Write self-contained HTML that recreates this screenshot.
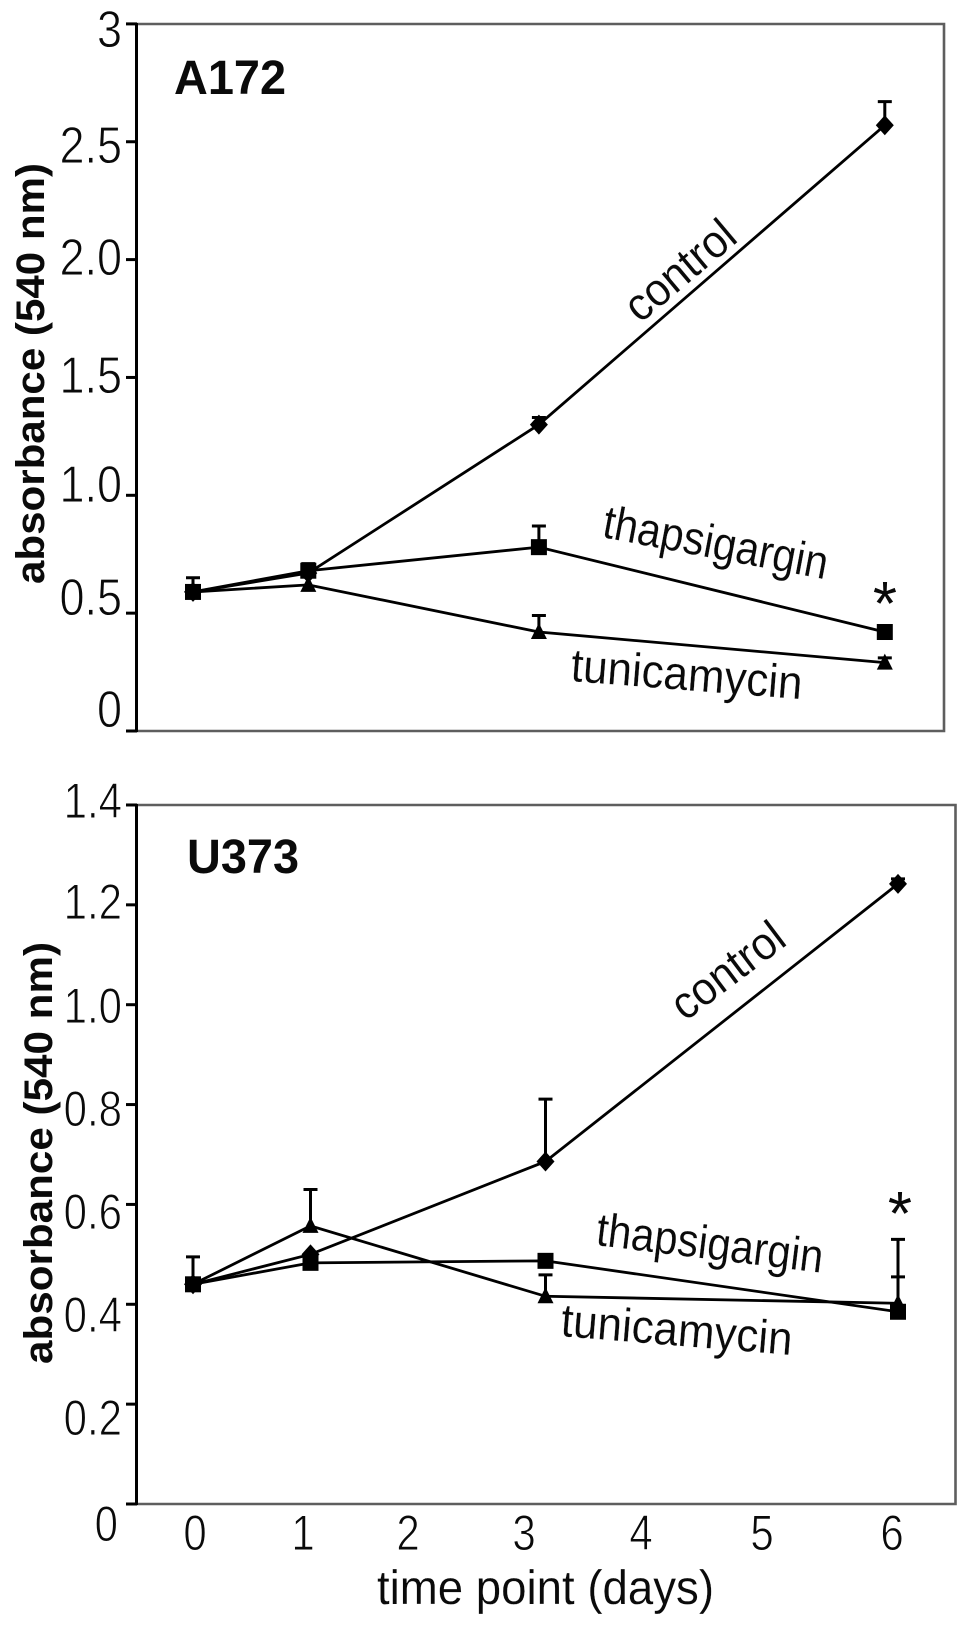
<!DOCTYPE html>
<html lang="en">
<head>
<meta charset="utf-8">
<title>Absorbance over time: A172 and U373</title>
<style>
html,body{margin:0;padding:0;background:#fff;}
svg{display:block;}
text{font-family:"Liberation Sans",Arial,sans-serif;fill:#0a0a0a;}
.tick{stroke:#fff;stroke-width:.8px;}
.lab{stroke:#fff;stroke-width:.15px;}
.title{font-weight:bold;}
</style>
</head>
<body>
<svg id="figure" xmlns="http://www.w3.org/2000/svg" width="969" height="1626" viewBox="0 0 969 1626">
  <rect x="0" y="0" width="969" height="1626" fill="#fff"/>

  <g id="panel-a">
    <path d="M136 24H944V731H136" fill="none" stroke="#5e5e5e" stroke-width="2.6"/>
    <line x1="136.5" y1="23" x2="136.5" y2="732" stroke="#000" stroke-width="3"/>
    <g id="marks-a"></g>
    <text class="title" transform="translate(174,94) scale(1,1.05)" font-size="46" textLength="112" lengthAdjust="spacingAndGlyphs">A172</text>
    <text class="title" transform="translate(44,584) rotate(-90)" font-size="40" textLength="421" lengthAdjust="spacingAndGlyphs">absorbance (540 nm)</text>
    <g font-size="45" text-anchor="end" class="tick">
      <text transform="translate(122,47) scale(1,1.16)">3</text>
      <text transform="translate(122,163) scale(1,1.16)">2.5</text>
      <text transform="translate(122,275) scale(1,1.16)">2.0</text>
      <text transform="translate(122,393) scale(1,1.16)">1.5</text>
      <text transform="translate(122,502) scale(1,1.16)">1.0</text>
      <text transform="translate(122,615) scale(1,1.16)">0.5</text>
      <text transform="translate(122,727) scale(1,1.16)">0</text>
    </g>
    <g class="lab">
      <text transform="translate(640,324) rotate(-40)" font-size="46" textLength="130" lengthAdjust="spacingAndGlyphs">control</text>
      <text transform="translate(601,537) rotate(10.7)" font-size="47" textLength="228" lengthAdjust="spacingAndGlyphs">thapsigargin</text>
      <text transform="translate(570,681) rotate(4.5)" font-size="47" textLength="232" lengthAdjust="spacingAndGlyphs">tunicamycin</text>
    </g>
    <text x="885" y="625" font-size="62" text-anchor="middle">*</text>
  </g>

  <g id="panel-b">
    <path d="M136 805H955.5V1504H136" fill="none" stroke="#5e5e5e" stroke-width="2.6"/>
    <line x1="136.5" y1="804" x2="136.5" y2="1505" stroke="#000" stroke-width="3"/>
    <g id="marks-b"></g>
    <text class="title" transform="translate(187,873) scale(1,1.05)" font-size="46" textLength="112" lengthAdjust="spacingAndGlyphs">U373</text>
    <text class="title" transform="translate(52,1364) rotate(-90)" font-size="40" textLength="422" lengthAdjust="spacingAndGlyphs">absorbance (540 nm)</text>
    <g font-size="42" text-anchor="end" class="tick">
      <text transform="translate(122,818) scale(1,1.2)">1.4</text>
      <text transform="translate(122,919) scale(1,1.2)">1.2</text>
      <text transform="translate(122,1023) scale(1,1.2)">1.0</text>
      <text transform="translate(122,1126) scale(1,1.2)">0.8</text>
      <text transform="translate(122,1229) scale(1,1.2)">0.6</text>
      <text transform="translate(122,1332) scale(1,1.2)">0.4</text>
      <text transform="translate(122,1435) scale(1,1.2)">0.2</text>
      <text transform="translate(118,1541) scale(1,1.2)">0</text>
    </g>
    <g font-size="42" text-anchor="middle" class="tick">
      <text transform="translate(195,1550) scale(1,1.2)">0</text>
      <text transform="translate(303,1550) scale(1,1.2)">1</text>
      <text transform="translate(408,1550) scale(1,1.2)">2</text>
      <text transform="translate(524,1550) scale(1,1.2)">3</text>
      <text transform="translate(641,1550) scale(1,1.2)">4</text>
      <text transform="translate(762,1550) scale(1,1.2)">5</text>
      <text transform="translate(892,1550) scale(1,1.2)">6</text>
    </g>
    <text class="lab" x="377" y="1604" font-size="48" textLength="337" lengthAdjust="spacingAndGlyphs">time point (days)</text>
    <g class="lab">
      <text transform="translate(685,1022) rotate(-37)" font-size="46" textLength="130" lengthAdjust="spacingAndGlyphs">control</text>
      <text transform="translate(595,1245) rotate(7)" font-size="47" textLength="228" lengthAdjust="spacingAndGlyphs">thapsigargin</text>
      <text transform="translate(560,1336) rotate(4.7)" font-size="47" textLength="232" lengthAdjust="spacingAndGlyphs">tunicamycin</text>
    </g>
    <text x="900" y="1235" font-size="62" text-anchor="middle">*</text>
  </g>
</svg>

<script>
// Shared categories
var days = [0, 1, 3, 6];

// A172 panel data
var a172Ticks = [0, 0.5, 1, 1.5, 2, 2.5, 3];
var a172Control = [0.59, 0.67, 1.30, 2.57];
var a172ControlErr = [0.06, 0, 0.03, 0.10];
var a172Thapsigargin = [0.59, 0.68, 0.78, 0.42];
var a172ThapsigarginErr = [0, 0.03, 0.09, 0];
var a172Tunicamycin = [0.59, 0.62, 0.42, 0.29];
var a172TunicamycinErr = [0, 0, 0.07, 0.02];

// U373 panel data
var u373Ticks = [0, 0.2, 0.4, 0.6, 0.8, 1.0, 1.2, 1.4];
var u373Control = [0.44, 0.50, 0.686, 1.242];
var u373ControlErr = [0.055, 0, 0.125, 0.01];
var u373Thapsigargin = [0.44, 0.483, 0.487, 0.385];
var u373ThapsigarginErr = [0, 0, 0, 0.07];
var u373Tunicamycin = [0.44, 0.557, 0.416, 0.402];
var u373TunicamycinErr = [0, 0.073, 0.043, 0.128];

var NS = 'http://www.w3.org/2000/svg';

function xA(d) { return 193 + d * 115.3; }
function yA(v) { return 731 - v * 235.7; }
function xB(d) { return 193 + d * 117.5; }
function yB(v) { return 1504 - v * 499.3; }

function drawTicks(root, prefix, ticks, y) {
  ticks.forEach(function (t) {
    var el = document.createElementNS(NS, 'line');
    
    
    el.setAttribute('x1', 126);
    el.setAttribute('x2', 137);
    el.setAttribute('y1', y(t));
    el.setAttribute('y2', y(t));
    el.setAttribute('stroke', '#000');
    el.setAttribute('stroke-width', 3);
    root.appendChild(el);
  });
}

function drawLine(root, name, vals, x, y) {
  var pts = vals.map(function (v, i) { return x(days[i]) + ',' + y(v); }).join(' ');
  var el = document.createElementNS(NS, 'polyline');
  
  
  el.setAttribute('points', pts);
  el.setAttribute('fill', 'none');
  el.setAttribute('stroke', '#000');
  el.setAttribute('stroke-width', 2.8);
  root.appendChild(el);
}

function drawErrors(root, name, vals, errs, x, y) {
  vals.forEach(function (v, i) {
    if (!errs[i]) return;
    var cx = x(days[i]);
    var top = y(v + errs[i]);
    var p = document.createElementNS(NS, 'path');
    
    
    p.setAttribute('d', 'M' + cx + ' ' + y(v) + 'V' + top + 'M' + (cx - 7) + ' ' + top + 'H' + (cx + 7));
    p.setAttribute('fill', 'none');
    p.setAttribute('stroke', '#000');
    p.setAttribute('stroke-width', 3);
    root.appendChild(p);
  });
}

function drawMarkers(root, name, shape, vals, x, y) {
  vals.forEach(function (v, i) {
    var cx = x(days[i]);
    var cy = y(v);
    var el;
    if (shape === 'square') {
      el = document.createElementNS(NS, 'rect');
      el.setAttribute('x', cx - 8);
      el.setAttribute('y', cy - 8);
      el.setAttribute('width', 16);
      el.setAttribute('height', 16);
    } else if (shape === 'diamond') {
      el = document.createElementNS(NS, 'polygon');
      el.setAttribute('points', cx + ',' + (cy - 10) + ' ' + (cx + 9) + ',' + cy + ' ' + cx + ',' + (cy + 10) + ' ' + (cx - 9) + ',' + cy);
    } else {
      el = document.createElementNS(NS, 'polygon');
      el.setAttribute('points', cx + ',' + (cy - 9) + ' ' + (cx + 8) + ',' + (cy + 7) + ' ' + (cx - 8) + ',' + (cy + 7));
    }
    
    
    el.setAttribute('fill', '#000');
    root.appendChild(el);
  });
}

function drawSeries(root, name, shape, vals, errs, x, y) {
  drawLine(root, name, vals, x, y);
  drawErrors(root, name, vals, errs, x, y);
  drawMarkers(root, name, shape, vals, x, y);
}

var marksA = document.getElementById('marks-a');
var marksB = document.getElementById('marks-b');

drawTicks(marksA, 'a172', a172Ticks, yA);
drawSeries(marksA, 'a172-control', 'diamond', a172Control, a172ControlErr, xA, yA);
drawSeries(marksA, 'a172-tunicamycin', 'triangle', a172Tunicamycin, a172TunicamycinErr, xA, yA);
drawSeries(marksA, 'a172-thapsigargin', 'square', a172Thapsigargin, a172ThapsigarginErr, xA, yA);

drawTicks(marksB, 'u373', u373Ticks, yB);
drawSeries(marksB, 'u373-control', 'diamond', u373Control, u373ControlErr, xB, yB);
drawSeries(marksB, 'u373-tunicamycin', 'triangle', u373Tunicamycin, u373TunicamycinErr, xB, yB);
drawSeries(marksB, 'u373-thapsigargin', 'square', u373Thapsigargin, u373ThapsigarginErr, xB, yB);
</script>
</body>
</html>
